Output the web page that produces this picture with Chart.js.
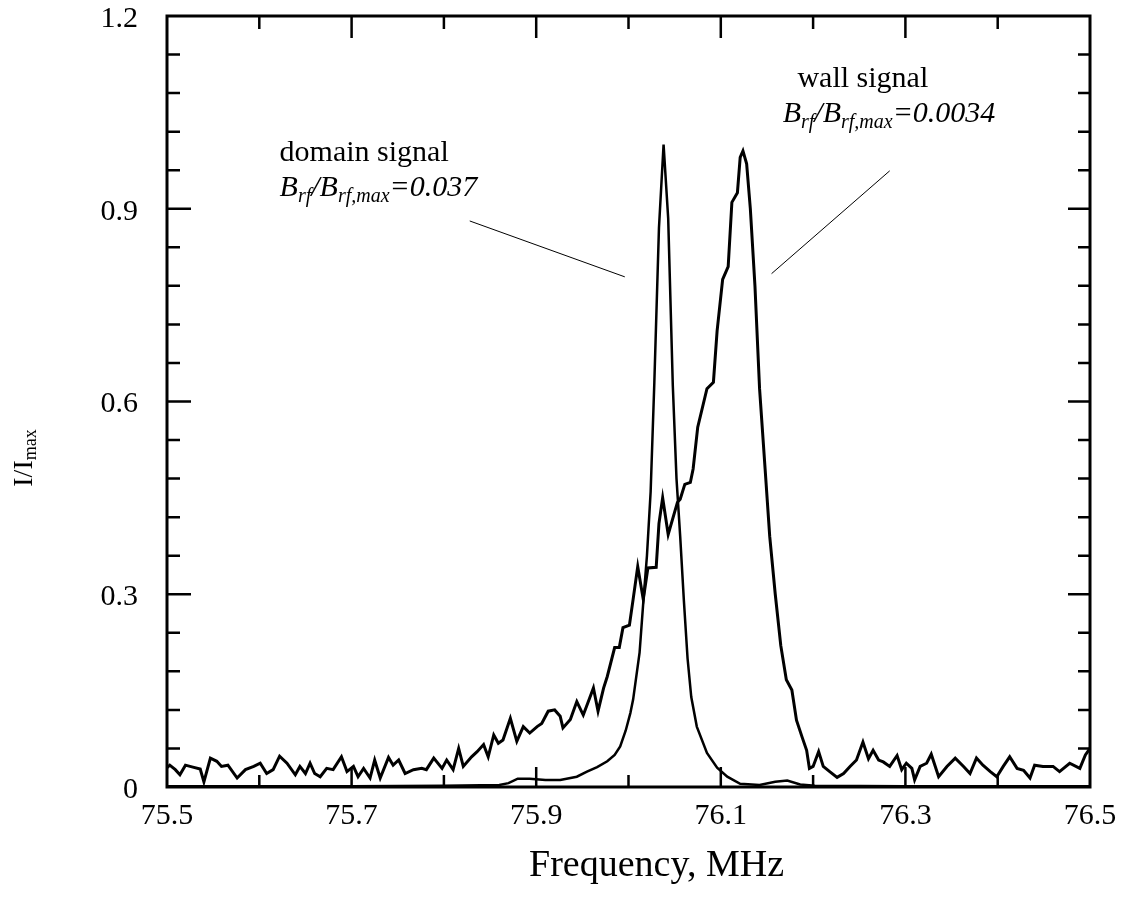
<!DOCTYPE html>
<html>
<head>
<meta charset="utf-8">
<script src="https://cdn.jsdelivr.net/npm/chart.js@4"></script>
<style>
html, body { margin: 0; padding: 0; background: #fff; }
canvas { display: block; }
</style>
</head>
<body>
<canvas id="chart" width="1131" height="904"></canvas>
<script>
// axis ticks
const freqTicks = [75.5, 75.7, 75.9, 76.1, 76.3, 76.5];
const freqMarks = [75.6, 75.7, 75.8, 75.9, 76.0, 76.1, 76.2, 76.3, 76.4];
const intensityTicks = [0, 0.3, 0.6, 0.9, 1.2];

// wall signal (broad peak, noisy baseline)
const wallFreq = [
  75.500, 75.503, 75.509, 75.514, 75.520, 75.528, 75.536, 75.540, 75.547, 75.554,
  75.559, 75.566, 75.576, 75.585, 75.594, 75.601, 75.608, 75.615, 75.622, 75.630,
  75.639, 75.644, 75.650, 75.655, 75.660, 75.666, 75.673, 75.680, 75.689, 75.695,
  75.702, 75.707, 75.713, 75.720, 75.725, 75.731, 75.740, 75.745, 75.751, 75.758,
  75.767, 75.776, 75.781, 75.789, 75.798, 75.803, 75.810, 75.816, 75.821, 75.830,
  75.836, 75.843, 75.848, 75.854, 75.859, 75.864, 75.872, 75.879, 75.886, 75.893,
  75.901, 75.906, 75.913, 75.920, 75.926, 75.929, 75.937, 75.944, 75.951, 75.956,
  75.962, 75.967, 75.973, 75.977, 75.985, 75.990, 75.994, 76.001, 76.005, 76.010,
  76.016, 76.021, 76.030, 76.033, 76.037, 76.043, 76.053, 76.056, 76.061, 76.067,
  76.070, 76.075, 76.085, 76.092, 76.096, 76.102, 76.108, 76.112, 76.118, 76.121,
  76.124, 76.128, 76.132, 76.137, 76.142, 76.148, 76.153, 76.159, 76.165, 76.171,
  76.177, 76.182, 76.188, 76.193, 76.196, 76.200, 76.206, 76.211, 76.218, 76.226,
  76.233, 76.240, 76.247, 76.254, 76.260, 76.265, 76.271, 76.276, 76.283, 76.291,
  76.296, 76.301, 76.307, 76.310, 76.316, 76.323, 76.328, 76.336, 76.345, 76.354,
  76.363, 76.370, 76.377, 76.384, 76.392, 76.399, 76.406, 76.413, 76.421, 76.428,
  76.435, 76.440, 76.449, 76.460, 76.467, 76.478, 76.489, 76.495, 76.500
];
const wallSignal = [
  0.030, 0.034, 0.027, 0.019, 0.034, 0.031, 0.028, 0.008, 0.045, 0.040,
  0.032, 0.034, 0.014, 0.027, 0.032, 0.037, 0.021, 0.027, 0.048, 0.037,
  0.019, 0.032, 0.021, 0.037, 0.021, 0.016, 0.029, 0.027, 0.047, 0.024,
  0.032, 0.016, 0.029, 0.014, 0.042, 0.014, 0.046, 0.034, 0.042, 0.021,
  0.027, 0.029, 0.027, 0.045, 0.029, 0.042, 0.027, 0.060, 0.032, 0.047,
  0.055, 0.066, 0.047, 0.081, 0.068, 0.073, 0.107, 0.071, 0.094, 0.084,
  0.094, 0.099, 0.118, 0.120, 0.110, 0.092, 0.105, 0.133, 0.112, 0.131,
  0.154, 0.118, 0.154, 0.172, 0.217, 0.217, 0.248, 0.252, 0.292, 0.343,
  0.292, 0.341, 0.342, 0.410, 0.450, 0.393, 0.443, 0.448, 0.471, 0.474,
  0.495, 0.560, 0.620, 0.630, 0.710, 0.790, 0.810, 0.910, 0.925, 0.980,
  0.990, 0.970, 0.900, 0.780, 0.620, 0.495, 0.390, 0.300, 0.220, 0.167,
  0.151, 0.104, 0.078, 0.057, 0.029, 0.032, 0.055, 0.032, 0.024, 0.015,
  0.021, 0.032, 0.042, 0.070, 0.044, 0.057, 0.042, 0.039, 0.032, 0.049,
  0.027, 0.037, 0.029, 0.011, 0.032, 0.037, 0.051, 0.016, 0.032, 0.045,
  0.032, 0.021, 0.045, 0.034, 0.024, 0.016, 0.032, 0.047, 0.029, 0.026,
  0.014, 0.034, 0.032, 0.032, 0.024, 0.037, 0.029, 0.050, 0.060
];

// domain signal (narrow peak)
const domainFreq = [
  75.500, 75.700, 75.800, 75.860, 75.870, 75.880, 75.893, 75.910, 75.926, 75.944,
  75.955, 75.966, 75.977, 75.985, 75.991, 75.997, 76.002, 76.005, 76.012, 76.016,
  76.020, 76.024, 76.028, 76.033, 76.038, 76.043, 76.048, 76.052, 76.056, 76.060,
  76.064, 76.068, 76.074, 76.085, 76.096, 76.107, 76.121, 76.142, 76.159, 76.172,
  76.186, 76.202, 76.300, 76.500
];
const domainSignal = [
  0.001, 0.001, 0.002, 0.003, 0.006, 0.013, 0.013, 0.011, 0.011, 0.016,
  0.024, 0.031, 0.040, 0.050, 0.063, 0.088, 0.115, 0.136, 0.209, 0.287,
  0.360, 0.460, 0.630, 0.870, 1.000, 0.885, 0.625, 0.480, 0.390, 0.290,
  0.200, 0.140, 0.094, 0.053, 0.030, 0.016, 0.005, 0.003, 0.008, 0.010,
  0.004, 0.002, 0.001, 0.001
];

const serif = "'Times New Roman', 'Liberation Serif', serif";

function toPoints(xs, ys) {
  return xs.map((x, i) => ({x: x, y: ys[i]}));
}

// draws a run of text pieces, some of them subscripts
function drawRich(ctx, parts, x, y, italic) {
  let cx = x;
  parts.forEach(p => {
    ctx.font = (italic ? 'italic ' : '') + p.size + 'px ' + serif;
    ctx.fillText(p.t, cx, y + (p.dy || 0));
    cx += ctx.measureText(p.t).width;
  });
}

function ratioLabel(val) {
  return [
    {t: 'B', size: 30}, {t: 'rf', size: 20, dy: 6}, {t: '/', size: 30},
    {t: 'B', size: 30}, {t: 'rf,max', size: 20, dy: 6}, {t: '=' + val, size: 30}
  ];
}

const decorations = {
  id: 'decorations',
  afterDraw(chart) {
    const {ctx, chartArea: a, scales: {x, y}} = chart;
    ctx.save();
    ctx.strokeStyle = '#000';
    ctx.fillStyle = '#000';

    // frame
    ctx.lineWidth = 3;
    ctx.strokeRect(a.left, a.top, a.right - a.left, a.bottom - a.top);

    // inward tick marks
    ctx.lineWidth = 2.5;
    ctx.beginPath();
    freqMarks.forEach(v => {
      const px = x.getPixelForValue(v);
      const major = freqTicks.some(t => Math.abs(t - v) < 1e-6);
      ctx.moveTo(px, a.bottom);
      ctx.lineTo(px, a.bottom - (major ? 20 : 12));
      ctx.moveTo(px, a.top);
      ctx.lineTo(px, a.top + (major ? 22 : 13));
    });
    for (let k = 1; k < 20; k++) {
      const v = k * 0.06;
      const py = y.getPixelForValue(v);
      const major = k % 5 === 0;
      ctx.moveTo(a.left, py);
      ctx.lineTo(a.left + (major ? 24 : 13), py);
      ctx.moveTo(a.right, py);
      ctx.lineTo(a.right - (major ? 22 : 12), py);
    }
    ctx.stroke();

    // annotation pointers
    ctx.lineWidth = 1;
    ctx.beginPath();
    ctx.moveTo(x.getPixelForValue(75.828), y.getPixelForValue(0.881));
    ctx.lineTo(x.getPixelForValue(75.996), y.getPixelForValue(0.794));
    ctx.moveTo(x.getPixelForValue(76.283), y.getPixelForValue(0.959));
    ctx.lineTo(x.getPixelForValue(76.155), y.getPixelForValue(0.799));
    ctx.stroke();

    // annotation texts
    ctx.textAlign = 'left';
    ctx.textBaseline = 'alphabetic';
    ctx.font = '30px ' + serif;
    ctx.fillText('domain signal', x.getPixelForValue(75.622), y.getPixelForValue(0.975));
    drawRich(ctx, ratioLabel('0.037'), x.getPixelForValue(75.622), y.getPixelForValue(0.920), true);
    ctx.font = '30px ' + serif;
    ctx.fillText('wall signal', x.getPixelForValue(76.183), y.getPixelForValue(1.090));
    drawRich(ctx, ratioLabel('0.0034'), x.getPixelForValue(76.167), y.getPixelForValue(1.035), true);

    // x axis title
    ctx.font = '38px ' + serif;
    ctx.textAlign = 'center';
    ctx.textBaseline = 'middle';
    ctx.fillText('Frequency, MHz', (a.left + a.right) / 2 + 28, 866);

    // y axis title with subscript
    ctx.save();
    ctx.translate(25, 458);
    ctx.rotate(-Math.PI / 2);
    ctx.textAlign = 'left';
    ctx.textBaseline = 'middle';
    const parts = [{t: 'I/I', size: 28}, {t: 'max', size: 18, dy: 6}];
    let w = 0;
    parts.forEach(p => { ctx.font = p.size + 'px ' + serif; w += ctx.measureText(p.t).width; });
    drawRich(ctx, parts, -w / 2, 0, false);
    ctx.restore();

    ctx.restore();
  }
};

new Chart(document.getElementById('chart'), {
  type: 'line',
  data: {
    datasets: [
      {
        label: 'wall signal',
        data: toPoints(wallFreq, wallSignal),
        borderColor: '#000',
        borderWidth: 3,
        pointRadius: 0,
        tension: 0,
        fill: false
      },
      {
        label: 'domain signal',
        data: toPoints(domainFreq, domainSignal),
        borderColor: '#000',
        borderWidth: 2.5,
        pointRadius: 0,
        tension: 0,
        fill: false
      }
    ]
  },
  options: {
    responsive: false,
    animation: false,
    layout: {padding: {top: 16, right: 41, left: 0, bottom: 0}},
    plugins: {legend: {display: false}, tooltip: {enabled: false}},
    scales: {
      x: {
        type: 'linear',
        min: 75.5,
        max: 76.5,
        afterBuildTicks: s => { s.ticks = freqTicks.map(v => ({value: v})); },
        afterFit: s => { s.height = 117; s.paddingLeft = 0; s.paddingRight = 0; },
        grid: {display: false, drawTicks: false},
        border: {display: false},
        ticks: {
          padding: 11,
          color: '#000',
          autoSkip: false,
          maxRotation: 0,
          font: {family: serif, size: 30},
          callback: v => v.toFixed(1)
        }
      },
      y: {
        min: 0,
        max: 1.2,
        afterBuildTicks: s => { s.ticks = intensityTicks.map(v => ({value: v})); },
        afterFit: s => { s.width = 167; s.paddingTop = 0; s.paddingBottom = 0; },
        grid: {display: false, drawTicks: false},
        border: {display: false},
        ticks: {
          padding: 29,
          labelOffset: 3,
          color: '#000',
          font: {family: serif, size: 30},
          callback: v => (v === 0 ? '0' : v.toFixed(1))
        }
      }
    }
  },
  plugins: [decorations]
});
</script>
</body>
</html>
